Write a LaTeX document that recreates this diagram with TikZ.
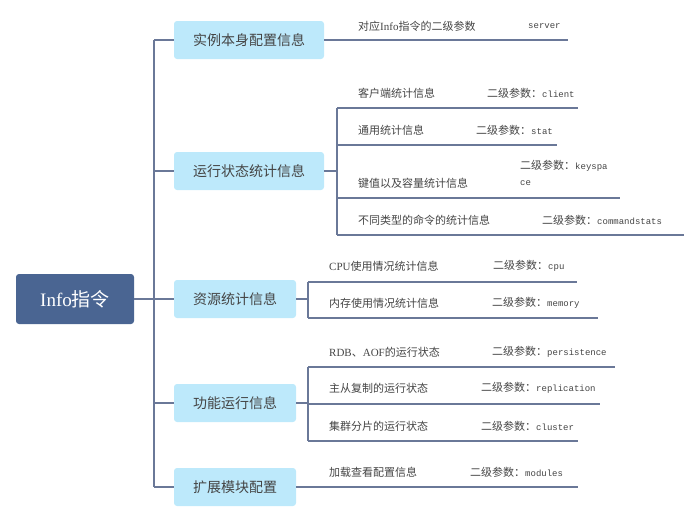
\documentclass[tikz,border=0pt]{standalone}
\usepackage{fontspec}
\setmainfont{Liberation Serif}
\setmonofont{Liberation Mono}
\newfontfamily\cjk{Noto Sans CJK SC}
\definecolor{rootC}{HTML}{4A6592}
\definecolor{boxC}{HTML}{BDE9FB}
\definecolor{lineC}{HTML}{6A7898}
\definecolor{txtC}{HTML}{444444}
\newcommand{\zh}[1]{{\cjk #1}}
\newcommand{\cmd}[1]{{\ttfamily\fontsize{9}{10}\selectfont #1}}
\begin{document}
\begin{tikzpicture}[x=1pt,y=-1pt,
  conn/.style={draw=lineC, line width=1.6pt},
  rootbox/.style={fill=rootC, rounded corners=3pt, minimum width=118pt, minimum height=50pt, inner sep=0pt, text=white, font=\fontsize{19}{21}\selectfont},
  lvbox/.style={fill=boxC, rounded corners=3pt, minimum height=38pt, inner sep=0pt, text=txtC, font=\cjk\fontsize{14}{16}\selectfont},
  leaf/.style={anchor=west, inner sep=0pt, text=txtC, font=\fontsize{11}{12}\selectfont}
]
\useasboundingbox (0,0) rectangle (700,523);

% root
\node[rootbox] (root) at (75,299) {Info\zh{指令}};

% level 1
\node[lvbox, minimum width=150pt] (b1) at (249,40) {实例本身配置信息};
\node[lvbox, minimum width=150pt] (b2) at (249,171) {运行状态统计信息};
\node[lvbox, minimum width=122pt] (b3) at (235,299) {资源统计信息};
\node[lvbox, minimum width=122pt] (b4) at (235,403) {功能运行信息};
\node[lvbox, minimum width=122pt] (b5) at (235,487) {扩展模块配置};

% trunk
\coordinate (tTop) at (154,40);
\coordinate (tBot) at (154,487);
\coordinate (tMid) at (154,299);
\draw[conn] (tTop) -- (tBot);
\draw[conn] (root.east) -- (tMid);
\draw[conn] (tTop) -- (b1.west);
\draw[conn] (154,171) -- (b2.west);
\draw[conn] (tMid) -- (b3.west);
\draw[conn] (154,403) -- (b4.west);
\draw[conn] (tBot) -- (b5.west);

% ---- b1 leaves
\coordinate (l1e) at (568,40);
\draw[conn] (b1.east) -- (l1e);
\node[leaf] (t1a) at (358,26) {\zh{对应}Info\zh{指令的二级参数}};
\node[leaf] (t1b) at (528,26) {\cmd{server}};

% ---- b2 leaves
\coordinate (v2) at (337,171);
\coordinate (v2t) at (337,108);
\coordinate (v2b) at (337,235);
\draw[conn] (b2.east) -- (v2);
\draw[conn] (v2t) -- (v2b);
\coordinate (l2ae) at (578,108);
\coordinate (l2bs) at (337,145);
\coordinate (l2be) at (557,145);
\coordinate (l2cs) at (337,198);
\coordinate (l2ce) at (620,198);
\coordinate (l2de) at (684,235);
\draw[conn] (v2t) -- (l2ae);
\draw[conn] (l2bs) -- (l2be);
\draw[conn] (l2cs) -- (l2ce);
\draw[conn] (v2b) -- (l2de);
\node[leaf] (t2a) at (358,93) {\zh{客户端统计信息}};
\node[leaf] (t2ap) at (487,93) {\zh{二级参数：}\cmd{client}};
\node[leaf] (t2b) at (358,130) {\zh{通用统计信息}};
\node[leaf] (t2bp) at (476,130) {\zh{二级参数：}\cmd{stat}};
\node[leaf] (t2c) at (358,183) {\zh{键值以及容量统计信息}};
\node[leaf] (t2cp) at (520,166) {\zh{二级参数：}\cmd{keyspa}};
\node[leaf] (t2cq) at (520,183) {\cmd{ce}};
\node[leaf] (t2d) at (358,220) {\zh{不同类型的命令的统计信息}};
\node[leaf] (t2dp) at (542,220) {\zh{二级参数：}\cmd{commandstats}};

% ---- b3 leaves
\coordinate (v3) at (308,299);
\coordinate (v3t) at (308,282);
\coordinate (v3b) at (308,318);
\draw[conn] (b3.east) -- (v3);
\draw[conn] (v3t) -- (v3b);
\coordinate (l3ae) at (577,282);
\coordinate (l3be) at (598,318);
\draw[conn] (v3t) -- (l3ae);
\draw[conn] (v3b) -- (l3be);
\node[leaf] (t3a) at (329,266) {CPU\zh{使用情况统计信息}};
\node[leaf] (t3ap) at (493,266) {\zh{二级参数：}\cmd{cpu}};
\node[leaf] (t3b) at (329,303) {\zh{内存使用情况统计信息}};
\node[leaf] (t3bp) at (492,303) {\zh{二级参数：}\cmd{memory}};

% ---- b4 leaves
\coordinate (v4) at (308,403);
\coordinate (v4t) at (308,367);
\coordinate (v4b) at (308,441);
\draw[conn] (b4.east) -- (v4);
\draw[conn] (v4t) -- (v4b);
\coordinate (l4ae) at (615,367);
\coordinate (l4be) at (600,404);
\coordinate (l4ce) at (578,441);
\draw[conn] (v4t) -- (l4ae);
\draw[conn] (308,404) -- (l4be);
\draw[conn] (v4b) -- (l4ce);
\node[leaf] (t4a) at (329,352) {RDB\zh{、}AOF\zh{的运行状态}};
\node[leaf] (t4ap) at (492,352) {\zh{二级参数：}\cmd{persistence}};
\node[leaf] (t4b) at (329,388) {\zh{主从复制的运行状态}};
\node[leaf] (t4bp) at (481,388) {\zh{二级参数：}\cmd{replication}};
\node[leaf] (t4c) at (329,426) {\zh{集群分片的运行状态}};
\node[leaf] (t4cp) at (481,426) {\zh{二级参数：}\cmd{cluster}};

% ---- b5 leaves
\coordinate (l5e) at (578,487);
\draw[conn] (b5.east) -- (l5e);
\node[leaf] (t5a) at (329,472) {\zh{加载查看配置信息}};
\node[leaf] (t5ap) at (470,472) {\zh{二级参数：}\cmd{modules}};
\end{tikzpicture}
\end{document}
